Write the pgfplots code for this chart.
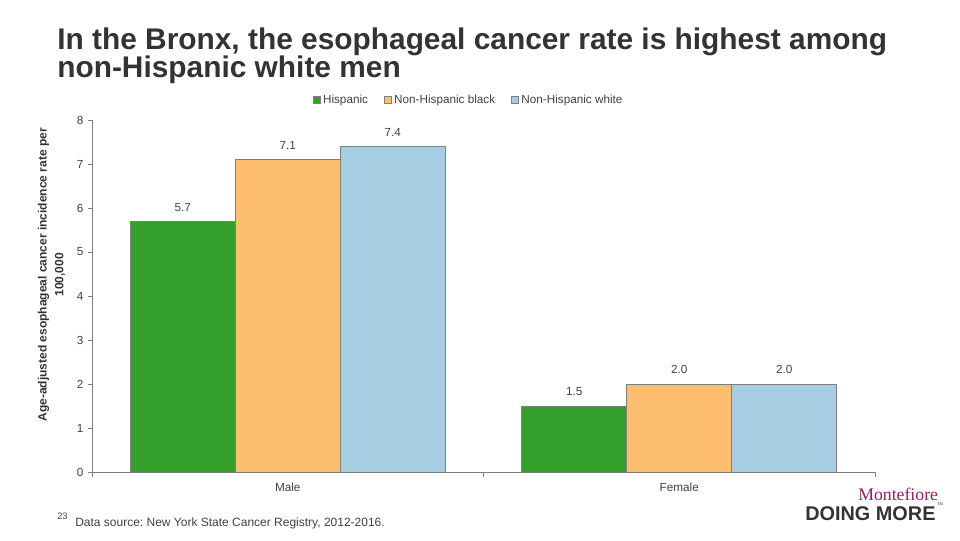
\documentclass[border=0pt]{standalone}
\usepackage{pgfplots}
\pgfplotsset{compat=1.18}
\usepackage{fontspec}
\setmainfont{Liberation Sans}
\newfontfamily\logoserif{Liberation Serif}
\definecolor{cgreen}{HTML}{33A02C}
\definecolor{corange}{HTML}{FDBF6F}
\definecolor{cblue}{HTML}{A6CEE3}
\definecolor{cedge}{HTML}{7F7F7F}
\definecolor{ctext}{HTML}{404040}
\definecolor{ctitle}{HTML}{333333}
\definecolor{cmagenta}{HTML}{A3195B}
\frenchspacing
\begin{document}
\begin{tikzpicture}[x=1pt,y=1pt]
\useasboundingbox (0,0) rectangle (720,405);
\node[anchor=base west, inner sep=0, font=\fontsize{22.4}{22}\selectfont\bfseries, text=ctitle] at (42.75,367.5) {In the Bronx, the esophageal cancer rate is highest among};
\node[anchor=base west, inner sep=0, font=\fontsize{22.4}{22}\selectfont\bfseries, text=ctitle] at (42.75,346.5) {non-Hispanic white men};
\begin{axis}[
  at={(69pt,51pt)}, anchor=south west,
  scale only axis, width=587.25pt, height=264pt,
  ybar=0pt, bar width=78.75pt,
  xmin=-0.5, xmax=1.5, ymin=0, ymax=8,
  xtick={0,1}, xticklabels={Male,Female},
  xtick style={draw=none},
  extra x ticks={-0.5,0.5,1.5}, extra x tick labels={},
  extra x tick style={xtick style={draw=cedge}, major tick length=4pt},
  ytick={0,1,...,8},
  ytick style={draw=cedge},
  tick align=outside, major tick length=3pt,
  axis x line*=bottom, axis y line*=left,
  axis line style={draw=cedge},
  ticklabel style={font=\fontsize{8.8}{10}\selectfont, text=ctext},
  xticklabel style={yshift=-1.5pt},
  /pgf/number format/assume math mode=true,
  nodes near coords={\pgfmathprintnumber[fixed,fixed zerofill,precision=1,assume math mode=true]{\pgfplotspointmeta}},
  every node near coord/.append style={font=\fontsize{8.8}{10}\selectfont, text=ctext, yshift=4pt},
  ylabel={Age-adjusted esophageal cancer incidence rate per\\100,000},
  ylabel style={align=center, font=\fontsize{9}{12.5}\selectfont\bfseries, text=ctitle,
    at={(axis description cs:-0.0517,0.56)}, anchor=center},
  legend columns=3,
  legend style={at={(axis description cs:0.4815,1.057)}, anchor=center, draw=none, fill=none,
    font=\fontsize{8.8}{10}\selectfont, text=ctext,
    /tikz/every even column/.append style={column sep=10pt}},
  legend image code/.code={\draw[#1,draw=cedge] (0pt,-2.6pt) rectangle (5.2pt,2.6pt);},
]
\addplot[fill=cgreen, draw=cedge] coordinates {(0,5.7) (1,1.5)};
\addplot[fill=corange, draw=cedge] coordinates {(0,7.1) (1,2.0)};
\addplot[fill=cblue, draw=cedge] coordinates {(0,7.4) (1,2.0)};
\legend{Hispanic, Non-Hispanic black, Non-Hispanic white}
\end{axis}
\node[anchor=base west, inner sep=0, font=\fontsize{7}{8}\selectfont, text=ctext] at (42.75,15.75) {23};
\node[anchor=base west, inner sep=0, font=\fontsize{9}{10}\selectfont, text=ctext] at (56.25,10.5) {Data source: New York State Cancer Registry, 2012-2016.};
\node[anchor=base west, inner sep=0, font=\logoserif\fontsize{13.3}{14}\selectfont, text=cmagenta] at (643.5,30) {Montefiore};
\node[anchor=base west, inner sep=0, font=\fontsize{14.9}{16}\selectfont\bfseries, text=ctitle] at (603.75,15) {DOING MORE};
\node[anchor=base west, inner sep=0, font=\fontsize{3}{4}\selectfont, text=ctitle] at (702.75,26) {TM};
\end{tikzpicture}
\end{document}
